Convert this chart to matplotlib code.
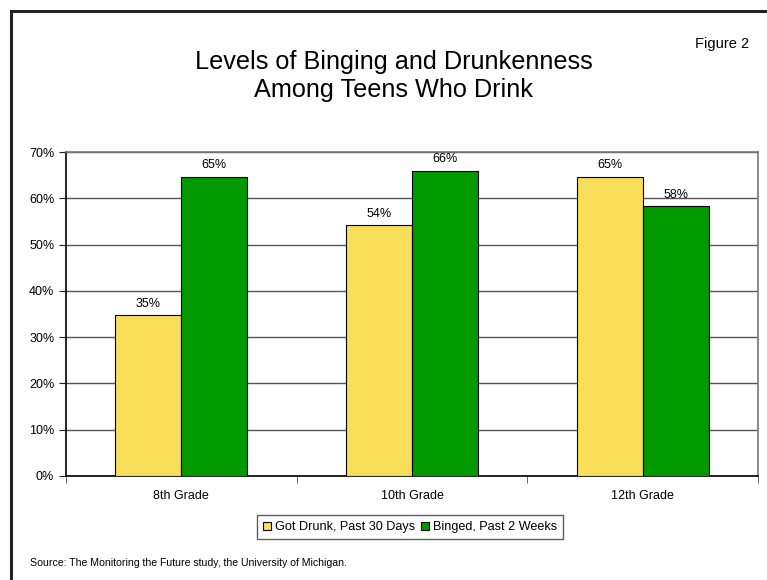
import matplotlib.pyplot as plt
from matplotlib.lines import Line2D
import numpy as np

grades = ["8th Grade", "10th Grade", "12th Grade"]
got_drunk = [34.7, 54.2, 64.7]
binged = [64.7, 65.9, 58.3]
series_names = ["Got Drunk, Past 30 Days", "Binged, Past 2 Weeks"]
yticks = [0, 10, 20, 30, 40, 50, 60, 70]

plt.rcParams['font.family'] = ['Liberation Sans', 'DejaVu Sans']

fig = plt.figure(figsize=(7.67, 5.8), dpi=100)
fig.patch.set_facecolor("white")

# outer frame (left and top edges only visible)
fig.add_artist(Line2D([11/767, 11/767], [0, 1 - 11/580], color="#222222", lw=2.2, transform=fig.transFigure))
fig.add_artist(Line2D([11/767, 1.0], [1 - 11/580, 1 - 11/580], color="#222222", lw=2.2, transform=fig.transFigure))

ax = fig.add_axes([66/767, 1 - 476/580, (758 - 66)/767, (476 - 152)/580])

x = np.arange(len(grades))
w = 0.286
b1 = ax.bar(x - w/2, got_drunk, w, color="#F9DE59", edgecolor="black", linewidth=0.8, zorder=3,
            label=series_names[0])
b2 = ax.bar(x + w/2, binged, w, color="#009900", edgecolor="black", linewidth=0.8, zorder=3,
            label=series_names[1])

for bars, vals in [(b1, got_drunk), (b2, binged)]:
    for bar, v in zip(bars, vals):
        ax.text(bar.get_x() + bar.get_width()/2, v + 1.2, "%d%%" % round(v),
                ha="center", va="bottom", fontsize=9)

ax.set_xlim(-0.5, 2.5)
ax.set_ylim(0, 70)
ax.set_yticks(yticks)
ax.set_yticklabels(["%d%%" % t for t in yticks], fontsize=9)
ax.yaxis.grid(True, color="#555555", linewidth=1, zorder=0)
ax.set_axisbelow(True)

ax.set_xticks(x)
ax.set_xticklabels(grades, fontsize=9)
ax.tick_params(axis="x", length=0, pad=10)
ax.set_xticks([-0.5, 0.5, 1.5, 2.5], minor=True)
ax.tick_params(axis="x", which="minor", length=5, direction="out", color="#555555")
ax.tick_params(axis="y", length=5, direction="out", color="#222222")

for s in ["left", "bottom"]:
    ax.spines[s].set_color("black")
    ax.spines[s].set_linewidth(1.2)
for s in ["top", "right"]:
    ax.spines[s].set_color("#777777")
    ax.spines[s].set_linewidth(1.2)

leg = ax.legend(loc="center", bbox_to_anchor=(410/767, 1 - 527/580), bbox_transform=fig.transFigure,
                ncol=2, fontsize=9.1, frameon=True, fancybox=False, edgecolor="#333333",
                handlelength=0.6, handleheight=0.6, handletextpad=0.3, columnspacing=0.5,
                borderpad=0.5, borderaxespad=0)
leg.get_frame().set_linewidth(1.0)

fig.text(394/767, 1 - 76/580, "Levels of Binging and Drunkenness\nAmong Teens Who Drink",
         ha="center", va="center", fontsize=18.2, linespacing=1.25)
fig.text(722/767, 1 - 44/580, "Figure 2", ha="center", va="center", fontsize=10.5)
fig.text(30/767, 1 - 563/580, "Source: The Monitoring the Future study, the University of Michigan.",
         ha="left", va="center", fontsize=7.6)

fig.savefig("out.png", dpi=100, facecolor="white")
